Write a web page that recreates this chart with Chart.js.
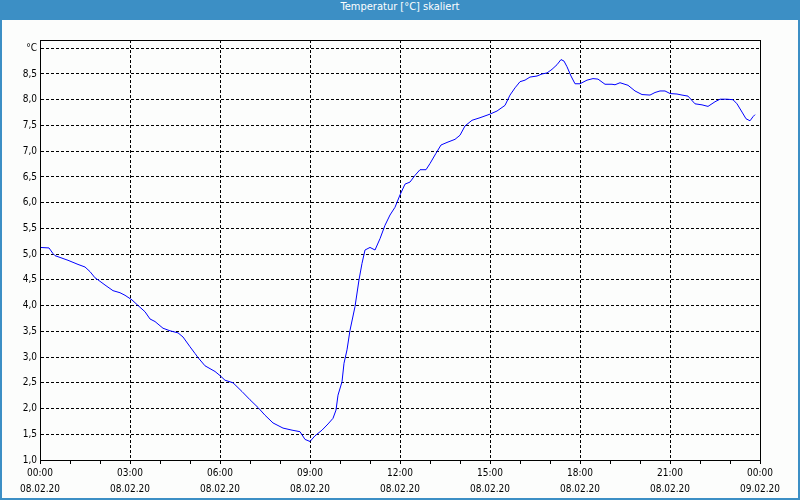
<!DOCTYPE html>
<html>
<head>
<meta charset="utf-8">
<script src="https://cdn.jsdelivr.net/npm/chart.js@4/dist/chart.umd.min.js"></script>
<style>
  html, body { margin: 0; padding: 0; background: #3c8fc5; }
  #wrap { position: relative; width: 800px; height: 500px; background: #3c8fc5; overflow: hidden; }
  #title {
    position: absolute; left: 0; top: 0; width: 800px; height: 20px;
    line-height: 20px; text-align: center; color: #fff;
    font: 11px "DejaVu Sans Condensed", "Liberation Sans", sans-serif;
  }
  #panel { position: absolute; left: 2px; top: 20px; width: 796px; height: 478px; background: #fcfdfc; }
  canvas { display: block; }
</style>
</head>
<body>
<div id="wrap">
  <div id="title">Temperatur [°C] skaliert</div>
  <div id="panel"><canvas id="c" width="796" height="478"></canvas></div>
</div>
<script>
  // Messwerte: Minuten seit 08.02.20 00:00 und Temperatur in °C
  const minutes = [
    0, 18, 26, 30, 56, 76, 90, 100, 110, 116, 130, 146, 160, 170, 184, 194,
    210, 220, 230, 246, 260, 276, 286, 300, 310, 316, 330, 350, 360, 370, 386,
    404, 420, 436, 450, 466, 486, 504, 520, 530, 540, 550, 564, 576, 586, 592,
    596, 604, 608, 614, 620, 630, 638, 644, 650, 660, 670, 680, 690, 700, 710,
    720, 730, 740, 750, 760, 772, 780, 792, 802, 814, 830, 840, 850, 864, 880,
    900, 914, 930, 940, 950, 960, 970, 980, 994, 1004, 1014, 1024, 1034, 1042,
    1048, 1054, 1062, 1070, 1080, 1094, 1106, 1116, 1130, 1144, 1150, 1160,
    1176, 1190, 1204, 1220, 1230, 1240, 1250, 1260, 1274, 1284, 1296, 1310,
    1324, 1336, 1350, 1360, 1374, 1386, 1394, 1404, 1412, 1420, 1426, 1430
  ];
  const temps = [
    5.13, 5.12, 5.01, 4.97, 4.88, 4.80, 4.75, 4.66, 4.54, 4.50, 4.40, 4.29, 4.25, 4.20, 4.11, 4.02,
    3.88, 3.74, 3.69, 3.56, 3.51, 3.47, 3.39, 3.20, 3.07, 2.99, 2.83, 2.72, 2.64, 2.55, 2.50,
    2.33, 2.17, 2.02, 1.87, 1.72, 1.62, 1.58, 1.55, 1.40, 1.36, 1.47, 1.58, 1.70, 1.81, 1.97,
    2.26, 2.52, 2.88, 3.14, 3.52, 3.98, 4.50, 4.82, 5.08, 5.13, 5.08, 5.30, 5.56, 5.76, 5.91,
    6.15, 6.36, 6.40, 6.53, 6.64, 6.64, 6.76, 6.96, 7.12, 7.17, 7.23, 7.31, 7.49, 7.60, 7.65,
    7.72, 7.78, 7.89, 8.09, 8.23, 8.35, 8.38, 8.44, 8.46, 8.50, 8.52, 8.59, 8.68, 8.78,
    8.75, 8.64, 8.46, 8.31, 8.31, 8.38, 8.41, 8.40, 8.30, 8.30, 8.29, 8.33,
    8.28, 8.17, 8.10, 8.09, 8.14, 8.17, 8.17, 8.12, 8.11, 8.09, 8.07, 7.92,
    7.90, 7.87, 7.96, 8.01, 8.01, 8.00, 7.92, 7.76, 7.63, 7.59, 7.67, 7.71
  ];
  const timeLabels = ['00:00', '03:00', '06:00', '09:00', '12:00', '15:00', '18:00', '21:00', '00:00'];
  const dateLabels = ['08.02.20', '08.02.20', '08.02.20', '08.02.20', '08.02.20', '08.02.20', '08.02.20', '08.02.20', '09.02.20'];
  const yUnit = '°C';

  Chart.defaults.font.family = '"DejaVu Sans Condensed", "Liberation Sans", sans-serif';
  Chart.defaults.font.size = 10;
  Chart.defaults.color = '#000';

  // schwarzer Rahmen um den Plotbereich
  const frame = {
    id: 'frame',
    afterDraw(chart) {
      const a = chart.chartArea;
      const ctx = chart.ctx;
      ctx.save();
      ctx.strokeStyle = '#000';
      ctx.lineWidth = 1;
      ctx.strokeRect(Math.round(a.left) + 0.5, Math.round(a.top) + 0.5,
        Math.round(a.right - a.left), Math.round(a.bottom - a.top));
      ctx.restore();
    }
  };

  new Chart(document.getElementById('c'), {
    type: 'line',
    data: {
      datasets: [{
        data: minutes.map((m, i) => ({ x: m, y: temps[i] })),
        borderColor: '#0000ff',
        borderWidth: 1,
        pointRadius: 0,
        tension: 0,
        fill: false
      }]
    },
    options: {
      responsive: false,
      animation: false,
      devicePixelRatio: 1,
      layout: { padding: { left: 0, top: 20, right: 38, bottom: 0 } },
      plugins: { legend: { display: false }, tooltip: { enabled: false } },
      scales: {
        x: {
          type: 'linear',
          min: 0,
          max: 1440,
          afterFit: s => { s.height = 38; },
          ticks: {
            stepSize: 60,
            autoSkip: false,
            maxRotation: 0,
            padding: 1,
            font: { size: 10, lineHeight: '16px' },
            callback: v => (v % 180 === 0 ? [timeLabels[v / 180], dateLabels[v / 180]] : '')
          },
          grid: {
            color: c => (c.tick && c.tick.value % 180 === 0 && c.tick.value > 0 && c.tick.value < 1440 ? '#000' : 'rgba(0,0,0,0)'),
            tickColor: '#000',
            tickLength: 4,
            lineWidth: 1
          },
          border: { display: true, color: '#000', width: 1, dash: [3, 2] }
        },
        y: {
          min: 1,
          max: 9.16,
          afterFit: s => { s.width = 38; },
          ticks: {
            stepSize: 0.5,
            includeBounds: false,
            padding: 3,
            callback: v => (Math.abs(v - 9) < 1e-6 ? yUnit : v.toFixed(1).replace('.', ','))
          },
          grid: {
            color: c => (c.tick && c.tick.value > 1 ? '#000' : 'rgba(0,0,0,0)'),
            drawTicks: false,
            tickLength: 0,
            lineWidth: 1
          },
          border: { display: true, color: '#000', width: 1, dash: [3, 2] }
        }
      }
    },
    plugins: [frame]
  });
</script>
</body>
</html>
